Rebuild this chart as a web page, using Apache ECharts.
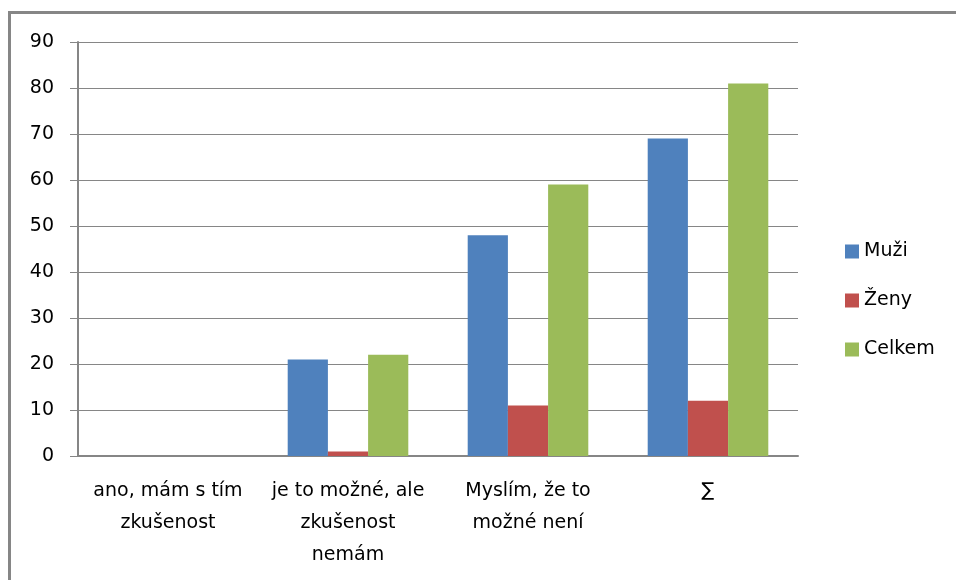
<!DOCTYPE html>
<html lang="cs">
<head>
    <meta charset="UTF-8">
    <title>Graf</title>
    <script src="https://cdn.jsdelivr.net/npm/echarts@6.0.0/dist/echarts.min.js"></script>
    <style>
        html, body { margin: 0; padding: 0; background: #fff; }
        #chart { width: 956px; height: 580px; }
    </style>
</head>
<body>
    <div id="chart"></div>
    <script>
        // data
        var categories = ['ano, mám s tím\nzkušenost', 'je to možné, ale\nzkušenost\nnemám', 'Myslím, že to\nmožné není', '∑'];
        var muzi = [0, 21, 48, 69];
        var zeny = [0, 1, 11, 12];
        var celkem = [0, 22, 59, 81];

        var font = 'DejaVu Sans';
        var chart = echarts.init(document.getElementById('chart'));

        var option = {
            animation: false,
            color: ['#4f81bd', '#c0504d', '#9bbb59'],
            graphic: [{
                type: 'rect',
                shape: { x: 9.5, y: 12.5, width: 1000, height: 1000 },
                style: { fill: 'none', stroke: '#868686', lineWidth: 3 }
            }],
            grid: { left: 78, right: 158, top: 42, bottom: 124 },
            legend: {
                orient: 'vertical',
                left: 840,
                top: 237,
                itemWidth: 14,
                itemHeight: 14,
                itemGap: 30,
                icon: 'rect',
                textStyle: { fontFamily: font, fontSize: 19, color: '#000' },
                data: ['Muži', 'Ženy', 'Celkem']
            },
            xAxis: {
                type: 'category',
                data: categories,
                axisLine: { lineStyle: { color: '#868686', width: 2 } },
                axisTick: { length: 9, lineStyle: { color: '#868686' } },
                axisLabel: {
                    fontFamily: font, fontSize: 19, color: '#000',
                    lineHeight: 32, margin: 19, interval: 0
                }
            },
            yAxis: {
                type: 'value',
                min: 0,
                max: 90,
                interval: 10,
                axisLine: { show: true, lineStyle: { color: '#868686', width: 2 } },
                axisTick: { show: true, length: 8, lineStyle: { color: '#868686' } },
                splitLine: { lineStyle: { color: '#868686', width: 1 } },
                axisLabel: { fontFamily: font, fontSize: 19, color: '#000', margin: 24, padding: [4, 0, 0, 0] }
            },
            series: [
                { name: 'Muži', type: 'bar', data: muzi, barGap: '0%', barCategoryGap: '33%' },
                { name: 'Ženy', type: 'bar', data: zeny },
                { name: 'Celkem', type: 'bar', data: celkem }
            ]
        };

        chart.setOption(option);
    </script>
</body>
</html>
